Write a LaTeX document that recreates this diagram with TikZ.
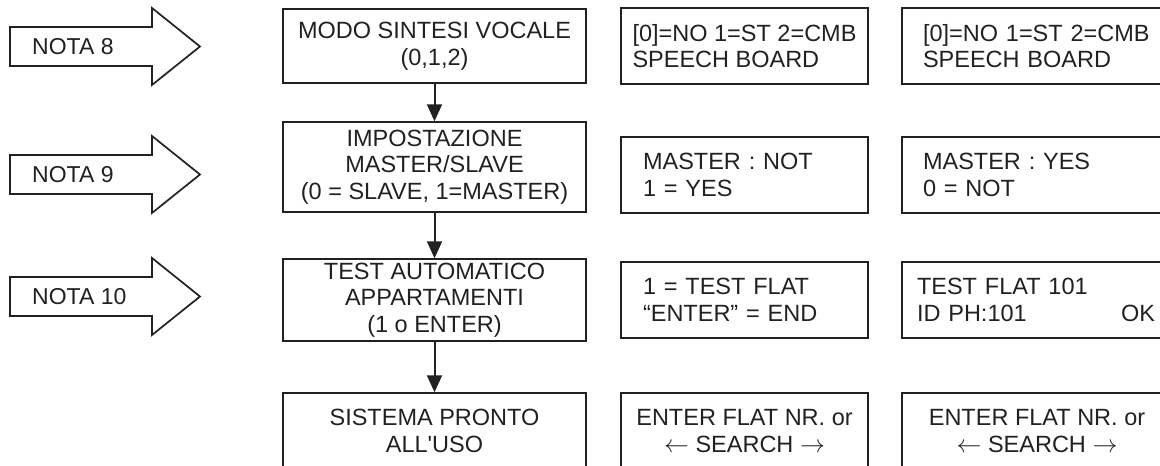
\documentclass[tikz,border=0pt]{standalone}
\usepackage{fontspec}
\setmainfont{Liberation Sans}[Ligatures=TeXOff]
\usetikzlibrary{arrows.meta}
\definecolor{ink}{gray}{0.13}
\begin{document}
\begin{tikzpicture}[x=1pt,y=-1pt,
  txt/.style={font=\fontsize{23.5}{26.5}\selectfont, text=ink},
  box/.style={txt, draw=ink, line width=1.5pt, inner ysep=0pt},
  mainbox/.style={box, minimum width=303pt, inner xsep=0pt, align=center},
  lcd/.style={box, minimum height=76pt, align=left},
  lcdc/.style={box, minimum height=76pt, align=center},
  conn/.style={draw=ink, line width=2pt, -{Triangle[length=17pt,width=15pt]}},
  notashape/.style={draw=ink, line width=1.7pt, fill=white, line join=miter},
  notatext/.style={txt, font=\fontsize{23}{26}\selectfont, inner sep=0pt, anchor=west}]
\useasboundingbox (0,0) rectangle (1160,466);
\clip (0,0) rectangle (1160,466);

% NOTA arrows
\foreach \y/\t/\n in {46.5/NOTA 8/n8, 174.5/NOTA 9/n9, 296.5/NOTA 10/n10} {
  \draw[notashape] (10,\y-19.5) -- (152,\y-19.5) -- (152,\y-38.5) -- (200,\y)
        -- (152,\y+38.5) -- (152,\y+19.5) -- (10,\y+19.5) -- cycle;
  \node[notatext] (\n) at (32,\y) {\t};
}

% main column
\node[mainbox, minimum height=74pt] (m1) at (434.5,46) {MODO SINTESI VOCALE\\(0,1,2)};
\node[mainbox, minimum height=90pt] (m2) at (434.5,167) {IMPOSTAZIONE\\MASTER/SLAVE\\(0 = SLAVE, 1=MASTER)};
\node[mainbox, minimum height=82pt] (m3) at (434.5,300) {TEST AUTOMATICO\\APPARTAMENTI\\(1 o ENTER)};
\node[mainbox, minimum height=76pt] (m4) at (434.5,431) {SISTEMA PRONTO\\ALL'USO};

\draw[conn] (m1.south) -- (m2.north);
\draw[conn] (m2.south) -- (m3.north);
\draw[conn] (m3.south) -- (m4.north);

% middle column
\node[lcd, minimum width=247pt, inner xsep=0pt] (a1) at (744.5,46) {[0]=NO 1=ST 2=CMB\\SPEECH BOARD};
\node[lcd, text width=203pt, inner xsep=22pt] (a2) at (744.5,175) {MASTER : NOT\\1 = YES};
\node[lcd, text width=203pt, inner xsep=22pt] (a3) at (744.5,300) {1 = TEST FLAT\\“ENTER” = END};
\node[lcdc, minimum width=247pt, inner xsep=0pt] (a4) at (744.5,431) {ENTER FLAT NR. or\\$\leftarrow$ SEARCH $\rightarrow$};

% right column
\node[lcd, text width=228pt, inner xsep=21pt] (b1) at (1037,46) {[0]=NO 1=ST 2=CMB\\SPEECH BOARD};
\node[lcd, text width=228pt, inner xsep=21pt] (b2) at (1037,175) {MASTER : YES\\0 = NOT};
\node[lcd, text width=240pt, inner xsep=15pt] (b3) at (1037,300) {TEST FLAT 101\\\makebox[238pt][s]{ID PH:101\hfill OK}};
\node[lcdc, minimum width=270pt, inner xsep=0pt] (b4) at (1037,431) {ENTER FLAT NR. or\\$\leftarrow$ SEARCH $\rightarrow$};
\end{tikzpicture}
\end{document}
